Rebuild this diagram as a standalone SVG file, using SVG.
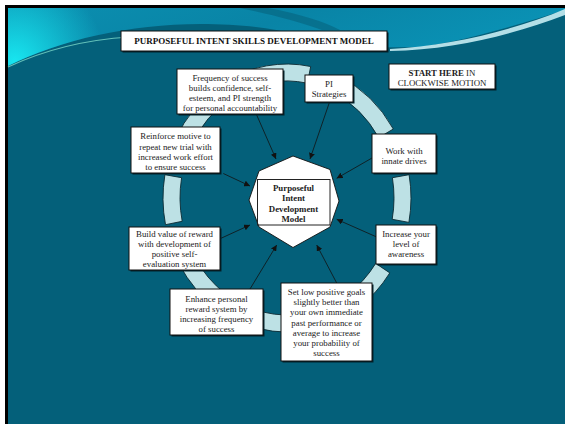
<svg xmlns="http://www.w3.org/2000/svg" width="565" height="424" viewBox="0 0 565 424">
<style>
.box{fill:#fff;stroke:#111;stroke-width:1}
.shd{fill:#01222c}
.seg{fill:#bde1e5;stroke:#0b2a33;stroke-width:0.9}
.t{font-family:"Liberation Serif","Times New Roman",serif;font-size:8.8px;fill:#222;text-anchor:middle}
.b{font-weight:bold}
.ttl{font-family:"Liberation Serif","Times New Roman",serif;font-size:9px;font-weight:bold;fill:#111;text-anchor:middle}
.con{stroke:#111;stroke-width:0.8;fill:none;marker-end:url(#ah)}
</style>
<defs>
<marker id="ah" markerUnits="userSpaceOnUse" markerWidth="7" markerHeight="6" refX="6" refY="3" orient="auto">
<path d="M0,0 L6,3 L0,6 Z" fill="#111"/>
</marker>
<linearGradient id="hdr" x1="0" y1="0" x2="1" y2="0.3">
<stop offset="0" stop-color="#0b8fb0"/>
<stop offset="0.5" stop-color="#0984a6"/>
<stop offset="1" stop-color="#0a93b6"/>
</linearGradient>
<radialGradient id="glow" cx="15" cy="62" r="90" gradientUnits="userSpaceOnUse">
<stop offset="0" stop-color="#18e6f0"/>
<stop offset="1" stop-color="#18e6f0" stop-opacity="0"/>
</radialGradient>
</defs>
<rect x="0" y="0" width="565" height="424" fill="#fff"/>
<rect x="5" y="5" width="560" height="419" fill="#000"/>
<rect x="8" y="8" width="557" height="416" fill="#04607a"/>
<g id="header">
<path d="M8,8 H565 V10 C520,24 470,40 420,47 L330,48 C300,32 260,24 200,24 C130,24 60,40 8,66 Z" fill="url(#hdr)"/>
<path d="M8,8 H565 V10 C520,24 470,40 420,47 L330,48 C300,32 260,24 200,24 C130,24 60,40 8,66 Z" fill="url(#glow)"/>
<path d="M240,8 L268,8 C300,14 325,22 340,30 L322,30 C300,22 270,14 240,8 Z" fill="#05607a" opacity="0.55"/>
<path d="M8,67 C40,52 80,40 130,37" stroke="#7ad8c8" stroke-width="1.2" fill="none" opacity="0.8"/>
<path d="M390,49 C450,46 515,30 565,9 L565,15 C515,34 455,50 390,51 Z" fill="#d4f6fa" opacity="0.85"/>
</g>
<g id="ring">
<path class="seg" d="M225.0,82.0 A124,134 0 0 1 310.7,66.5 L307.4,83.2 A107,117 0 0 0 233.5,96.7 Z"/>
<path class="seg" d="M339.4,76.6 A124,134 0 0 1 393.3,129.0 L378.7,137.7 A107,117 0 0 0 332.2,92.0 Z"/>
<path class="seg" d="M409.1,174.7 A124,134 0 0 1 408.9,222.4 L392.2,219.3 A107,117 0 0 0 392.4,177.7 Z"/>
<path class="seg" d="M389.8,272.9 A124,134 0 0 1 358.1,307.8 L348.4,293.8 A107,117 0 0 0 375.7,263.4 Z"/>
<path class="seg" d="M312.8,329.1 A124,134 0 0 1 259.1,328.6 L262.9,312.0 A107,117 0 0 0 309.2,312.4 Z"/>
<path class="seg" d="M215.9,307.8 A124,134 0 0 1 179.6,265.0 L194.3,256.5 A107,117 0 0 0 225.6,293.8 Z"/>
<path class="seg" d="M165.5,224.7 A124,134 0 0 1 164.9,174.7 L181.6,177.7 A107,117 0 0 0 182.2,221.3 Z"/>
<path class="seg" d="M174.6,141.4 A124,134 0 0 1 225.0,82.0 L233.5,96.7 A107,117 0 0 0 190.0,148.6 Z"/>
</g>
<g id="connectors">
<line class="con" x1="256.7" y1="115" x2="276" y2="159"/>
<line class="con" x1="329.3" y1="102.7" x2="310" y2="159"/>
<line class="con" x1="372" y1="158" x2="336.7" y2="178.3"/>
<line class="con" x1="223.3" y1="173.5" x2="250" y2="186"/>
<line class="con" x1="220.5" y1="238.5" x2="250" y2="225"/>
<line class="con" x1="376" y1="236.7" x2="336.7" y2="219.3"/>
<line class="con" x1="250" y1="289" x2="276.7" y2="245"/>
<line class="con" x1="336.7" y1="283" x2="316.7" y2="245"/>
</g>
<g id="title">
<rect class="shd" x="122.5" y="32.5" width="266" height="20"/>
<rect class="box" x="121" y="31" width="266" height="20"/>
<text class="ttl" x="254" y="44.2">PURPOSEFUL INTENT SKILLS DEVELOPMENT MODEL</text>
</g>
<g id="start">
<rect class="shd" x="390.5" y="65.5" width="106" height="25"/>
<rect class="box" x="389" y="64" width="106" height="25"/>
<text class="t" x="442" y="75.5"><tspan class="b">START HERE</tspan> IN</text>
<text class="t" x="442" y="85.5">CLOCKWISE MOTION</text>
</g>
<g id="frequency">
<rect class="shd" x="178.5" y="70.5" width="106" height="45"/>
<rect class="box" x="177" y="69" width="106" height="45"/>
<text class="t" x="230" y="80.5">Frequency of success</text>
<text class="t" x="230" y="90.7">builds confidence, self-</text>
<text class="t" x="230" y="101">esteem, and PI strength</text>
<text class="t" x="230" y="111.3">for personal accountability</text>
</g>
<g id="pi">
<rect class="shd" x="306.5" y="76.5" width="48" height="27"/>
<rect class="box" x="305" y="75" width="48" height="27"/>
<text class="t" x="329" y="87">PI</text>
<text class="t" x="329" y="97">Strategies</text>
</g>
<g id="work">
<rect class="shd" x="373.5" y="135.5" width="64" height="39"/>
<rect class="box" x="372" y="134" width="64" height="39"/>
<text class="t" x="404" y="154.3">Work with</text>
<text class="t" x="404" y="164.3">innate drives</text>
</g>
<g id="reinforce">
<rect class="shd" x="132.5" y="128.5" width="89" height="46"/>
<rect class="box" x="131" y="127" width="89" height="46"/>
<text class="t" x="175.5" y="139.2">Reinforce motive to</text>
<text class="t" x="175.5" y="149.5">repeat new trial with</text>
<text class="t" x="175.5" y="159.8">increased work effort</text>
<text class="t" x="175.5" y="170">to ensure success</text>
</g>
<g id="center">
<polygon points="293,156 330,169.5 339,201 330,227 293,247.5 259,227 249,200 259,171" fill="#fff" stroke="#111" stroke-width="0.9"/>
<rect x="257.5" y="179.5" width="72.5" height="45.5" fill="none" stroke="#222" stroke-width="1"/>
<text class="t b" x="293.5" y="190.5">Purposeful</text>
<text class="t b" x="293.5" y="201.3">Intent</text>
<text class="t b" x="293.5" y="211.5">Development</text>
<text class="t b" x="293.5" y="221.5">Model</text>
</g>
<g id="build">
<rect class="shd" x="130.5" y="228.5" width="91" height="43"/>
<rect class="box" x="129" y="227" width="91" height="43"/>
<text class="t" x="174.5" y="236.5">Build value of reward</text>
<text class="t" x="174.5" y="246.5">with development of</text>
<text class="t" x="174.5" y="256.5">positive self-</text>
<text class="t" x="174.5" y="266.5">evaluation system</text>
</g>
<g id="increase">
<rect class="shd" x="377.5" y="226.5" width="60" height="39"/>
<rect class="box" x="376" y="225" width="60" height="39"/>
<text class="t" x="406" y="236.5">Increase your</text>
<text class="t" x="406" y="246.7">level of</text>
<text class="t" x="406" y="257">awareness</text>
</g>
<g id="enhance">
<rect class="shd" x="171.5" y="290.5" width="93" height="46"/>
<rect class="box" x="170" y="289" width="93" height="46"/>
<text class="t" x="216.5" y="301.5">Enhance personal</text>
<text class="t" x="216.5" y="311.5">reward system by</text>
<text class="t" x="216.5" y="321.5">increasing frequency</text>
<text class="t" x="216.5" y="331.5">of success</text>
</g>
<g id="setlow">
<rect class="shd" x="282.5" y="284.5" width="91" height="78"/>
<rect class="box" x="281" y="283" width="91" height="78"/>
<text class="t" x="326.5" y="295">Set low positive goals</text>
<text class="t" x="326.5" y="305">slightly better than</text>
<text class="t" x="326.5" y="315">your own immediate</text>
<text class="t" x="326.5" y="325.5">past performance or</text>
<text class="t" x="326.5" y="335.5">average to increase</text>
<text class="t" x="326.5" y="345.5">your probability of</text>
<text class="t" x="326.5" y="355.5">success</text>
</g>
</svg>
